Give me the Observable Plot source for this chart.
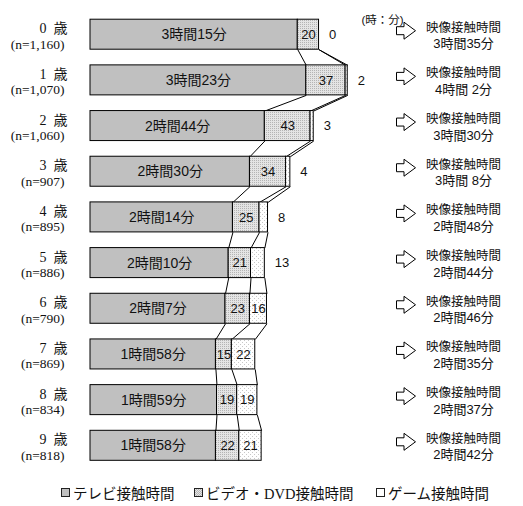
<!DOCTYPE html>
<html>
<head>
<meta charset="utf-8">
<script src="https://cdn.jsdelivr.net/npm/d3@7"></script>
<script src="https://cdn.jsdelivr.net/npm/@observablehq/plot@0.6"></script>
<style>
  html, body { margin: 0; padding: 0; background: #fff; }
  #wrap { position: relative; width: 523px; }
  #legend { position: relative; width: 523px; height: 28px; font-family: "Liberation Serif", "Noto Sans CJK JP", serif; font-size: 14.5px; color: #111; }
  #legend .item { position: absolute; top: 4px; white-space: nowrap; }
  #legend .sw { display: inline-block; width: 7px; height: 7px; border: 1px solid #222; margin-right: 3px; vertical-align: 2px; }
</style>
</head>
<body>
<div id="wrap"></div>
<script>
// ---- data (minutes) ----
const ages = ["0", "1", "2", "3", "4", "5", "6", "7", "8", "9"];
const nLabels = ["1,160", "1,070", "1,060", "907", "895", "886", "790", "869", "834", "818"];
const tvMinutes = [195, 203, 164, 150, 134, 130, 127, 118, 119, 118];
const videoMinutes = [20, 37, 43, 34, 25, 21, 23, 15, 19, 22];
const gameMinutes = [0, 2, 3, 4, 8, 13, 16, 22, 19, 21];
const totalLabels = ["3時間35分", "4時間 2分", "3時間30分", "3時間 8分", "2時間48分", "2時間44分", "2時間46分", "2時間35分", "2時間37分", "2時間42分"];
const seriesNames = ["テレビ接触時間", "ビデオ・DVD接触時間", "ゲーム接触時間"];

// ---- derived table ----
const rows = ages.map((a, i) => {
  const tv = tvMinutes[i], vd = videoMinutes[i], gm = gameMinutes[i];
  return {
    i, age: a, n: nLabels[i], tv, vd, gm,
    c1: tv, c2: tv + vd, c3: tv + vd + gm,
    tvLabel: `${Math.floor(tv / 60)}時間${tv % 60}分`,
    total: totalLabels[i]
  };
});
const H = 15 / 45.68; // half bar thickness in row units
const segs = [];
rows.forEach(r => {
  segs.push({i: r.i, x1: 0, x2: r.c1, fill: "#c0c0c0"});
  segs.push({i: r.i, x1: r.c1, x2: r.c2, fill: "url(#pVideo)"});
  if (r.gm > 0) segs.push({i: r.i, x1: r.c2, x2: r.c3, fill: "url(#pGame)"});
});
const links = [];
for (let i = 0; i < rows.length - 1; i++) {
  for (const k of ["c1", "c2", "c3"]) {
    links.push({x1: rows[i][k], x2: rows[i + 1][k], y1: i + H, y2: i + 1 - H});
  }
}
const inside = rows.filter(r => r.gm >= 15);
const outside = rows.filter(r => r.gm < 15);

const arrow = {
  draw(ctx) {
    ctx.moveTo(-9.5, -4); ctx.lineTo(-2, -4); ctx.lineTo(-2, -8.5);
    ctx.lineTo(9.5, 0); ctx.lineTo(-2, 8.5); ctx.lineTo(-2, 4);
    ctx.lineTo(-9.5, 4); ctx.closePath();
  }
};

const sans = "'Liberation Sans', 'Noto Sans CJK JP', sans-serif";
const serif = "'Liberation Serif', 'Noto Sans CJK JP', serif";

const svg = Plot.plot({
  width: 523, height: 478,
  marginLeft: 90, marginRight: 0, marginTop: 0, marginBottom: 0,
  x: {domain: [0, 300], range: [90, 90 + 300 * 1.063], axis: null},
  y: {domain: [0, 9], range: [34.2, 445.3], axis: null},
  style: {fontFamily: sans, color: "#111", background: "#fff"},
  marks: [
    Plot.link(links, {x1: "x1", x2: "x2", y1: "y1", y2: "y2", stroke: "#000", strokeWidth: 1}),
    Plot.rect(segs, {x1: "x1", x2: "x2", y1: d => d.i - H, y2: d => d.i + H, fill: d => d.fill, stroke: "#000", strokeWidth: 1}),
    Plot.text(rows, {x: d => d.tv / 2, y: "i", text: "tvLabel", fontSize: 14, fill: "#111"}),
    Plot.text(rows, {x: d => d.tv + d.vd / 2, y: "i", text: d => String(d.vd), fontSize: 13, fill: "#111"}),
    Plot.text(inside, {x: d => d.c2 + d.gm / 2, y: "i", text: d => String(d.gm), fontSize: 13, fill: "#111"}),
    Plot.text(outside, {x: "c3", y: "i", dx: 10, textAnchor: "start", text: d => String(d.gm), fontSize: 13, fill: "#111"}),
    // left labels
    Plot.text(rows, {y: "i", frameAnchor: "left", dx: -23, dy: -6, textAnchor: "end", text: d => d.age + "\u2002歳", fontSize: 14, fontFamily: serif, fill: "#111"}),
    Plot.text(rows, {y: "i", frameAnchor: "left", dx: -26, dy: 9.5, textAnchor: "end", text: d => `(n=${d.n})`, fontSize: 13.5, fontFamily: serif, fill: "#111"}),
    // right side
    Plot.text(["(時：分)"], {frameAnchor: "top-right", dx: -141, dy: 15, textAnchor: "middle", text: d => d, fontSize: 11.5, fill: "#111"}),
    Plot.dot(rows, {y: "i", frameAnchor: "right", dx: -117.5, dy: -4, symbol: arrow, fill: "#fff", stroke: "#000", strokeWidth: 1}),
    Plot.text(rows, {y: "i", frameAnchor: "right", dx: -60, dy: -7, textAnchor: "middle", text: () => "映像接触時間", fontSize: 12.5, fill: "#111"}),
    Plot.text(rows, {y: "i", frameAnchor: "right", dx: -60, dy: 9.5, textAnchor: "middle", text: "total", fontSize: 13, fill: "#111"})
  ]
});

// patterns
const NS = "http://www.w3.org/2000/svg";
const defs = document.createElementNS(NS, "defs");
function pattern(id, size, bg, dots, dotColor) {
  const p = document.createElementNS(NS, "pattern");
  p.setAttribute("id", id); p.setAttribute("width", size); p.setAttribute("height", size);
  p.setAttribute("patternUnits", "userSpaceOnUse");
  const r = document.createElementNS(NS, "rect");
  r.setAttribute("width", size); r.setAttribute("height", size); r.setAttribute("fill", bg);
  p.appendChild(r);
  dots.forEach(([x, y]) => {
    const d = document.createElementNS(NS, "rect");
    d.setAttribute("x", x); d.setAttribute("y", y); d.setAttribute("width", 1); d.setAttribute("height", 1);
    d.setAttribute("fill", dotColor);
    p.appendChild(d);
  });
  defs.appendChild(p);
}
pattern("pVideo", 2, "#e4e4e4", [[0, 0]], "#b4b4b4");
pattern("pGame", 4, "#ffffff", [[0, 0], [2, 2]], "#c8c8c8");
svg.insertBefore(defs, svg.firstChild);
document.getElementById("wrap").appendChild(svg);

// legend
const legend = document.createElement("div");
legend.id = "legend";
const swatches = ["#c0c0c0", "repeating-conic-gradient(#b4b4b4 0 25%, #e4e4e4 0 50%) 0 0/2px 2px", "#fff"];
const lefts = [61, 194, 376];
seriesNames.forEach((name, k) => {
  const it = document.createElement("span");
  it.className = "item";
  it.style.left = lefts[k] + "px";
  const sw = document.createElement("span");
  sw.className = "sw";
  sw.style.background = swatches[k];
  it.appendChild(sw);
  it.appendChild(document.createTextNode(name));
  legend.appendChild(it);
});
document.getElementById("wrap").appendChild(legend);
</script>
</body>
</html>
